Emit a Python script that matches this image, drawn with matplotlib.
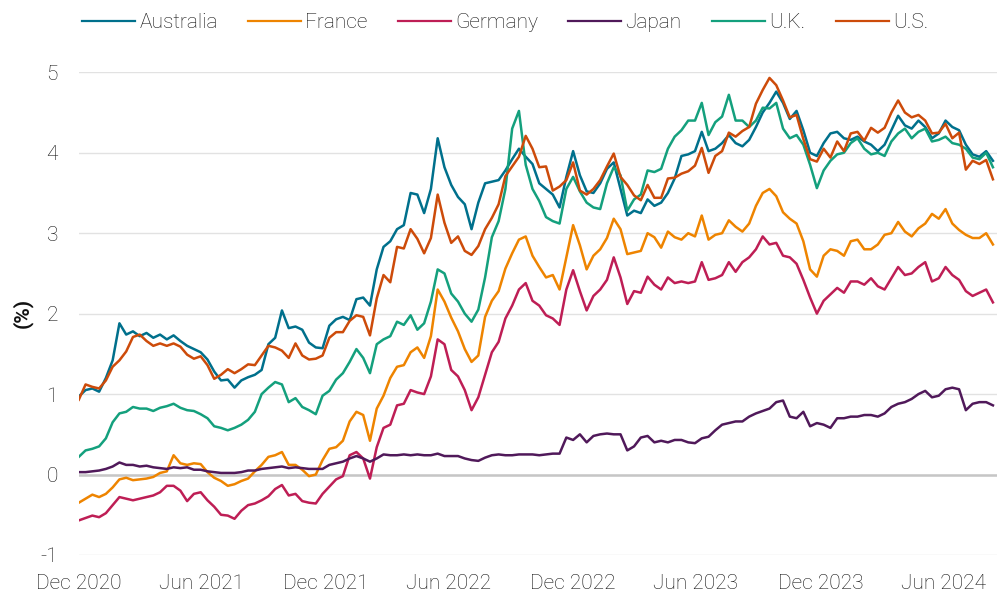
#!/usr/bin/env python3
"""10-year government bond yields, Dec 2020 - Sep 2024 (values read off the reference)."""
import matplotlib

matplotlib.use("Agg")
import matplotlib.pyplot as plt
import pandas as pd

# one reading every 10 days, starting 31 Dec 2020
DATES = pd.date_range("2020-12-31", periods=136, freq="10D")

AUSTRALIA = [
    0.97, 1.05, 1.07, 1.03, 1.20, 1.42, 1.88, 1.74, 1.78, 1.72,
    1.76, 1.70, 1.74, 1.68, 1.73, 1.66, 1.60, 1.56, 1.52, 1.43,
    1.28, 1.17, 1.18, 1.08, 1.17, 1.21, 1.24, 1.30, 1.62, 1.70,
    2.04, 1.82, 1.84, 1.80, 1.64, 1.58, 1.57, 1.85, 1.93, 1.96,
    1.92, 2.18, 2.20, 2.10, 2.55, 2.83, 2.90, 3.05, 3.10, 3.50,
    3.48, 3.25, 3.55, 4.18, 3.82, 3.60, 3.45, 3.36, 3.05, 3.38,
    3.62, 3.64, 3.66, 3.78, 3.92, 4.05, 3.95, 3.86, 3.62, 3.55,
    3.48, 3.32, 3.70, 4.02, 3.72, 3.52, 3.50, 3.62, 3.80, 3.88,
    3.55, 3.22, 3.28, 3.25, 3.42, 3.34, 3.38, 3.50, 3.68, 3.96,
    3.98, 4.02, 4.26, 4.02, 4.05, 4.12, 4.22, 4.12, 4.08, 4.16,
    4.32, 4.50, 4.62, 4.76, 4.62, 4.42, 4.52, 4.28, 4.00, 3.96,
    4.12, 4.24, 4.26, 4.18, 4.16, 4.20, 4.14, 4.10, 4.02, 4.10,
    4.28, 4.46, 4.34, 4.30, 4.40, 4.32, 4.18, 4.24, 4.40, 4.32,
    4.28, 4.10, 3.98, 3.95, 4.02, 3.90,
]
FRANCE = [
    -0.35, -0.30, -0.25, -0.28, -0.24, -0.16, -0.06, -0.04, -0.07, -0.06,
    -0.05, -0.03, 0.02, 0.04, 0.24, 0.14, 0.12, 0.14, 0.13, 0.03,
    -0.04, -0.08, -0.14, -0.12, -0.08, -0.05, 0.04, 0.12, 0.22, 0.24,
    0.28, 0.12, 0.12, 0.06, -0.02, 0.00, 0.18, 0.32, 0.34, 0.42,
    0.66, 0.78, 0.74, 0.42, 0.82, 0.98, 1.20, 1.34, 1.36, 1.52,
    1.58, 1.45, 1.72, 2.30, 2.15, 1.95, 1.78, 1.56, 1.40, 1.48,
    1.96, 2.16, 2.28, 2.56, 2.75, 2.92, 2.96, 2.72, 2.58, 2.45,
    2.48, 2.30, 2.70, 3.10, 2.85, 2.55, 2.72, 2.80, 2.94, 3.18,
    3.05, 2.74, 2.76, 2.78, 3.00, 2.95, 2.82, 3.02, 2.95, 2.92,
    3.00, 2.96, 3.22, 2.92, 2.98, 3.00, 3.16, 3.08, 3.02, 3.12,
    3.34, 3.50, 3.55, 3.46, 3.26, 3.18, 3.12, 2.90, 2.55, 2.46,
    2.72, 2.80, 2.78, 2.72, 2.90, 2.92, 2.80, 2.80, 2.86, 2.98,
    3.00, 3.14, 3.02, 2.96, 3.06, 3.12, 3.24, 3.18, 3.30, 3.12,
    3.04, 2.98, 2.94, 2.94, 3.00, 2.86,
]
GERMANY = [
    -0.57, -0.54, -0.51, -0.53, -0.48, -0.38, -0.28, -0.30, -0.32, -0.30,
    -0.28, -0.26, -0.22, -0.14, -0.14, -0.20, -0.33, -0.24, -0.22, -0.32,
    -0.40, -0.50, -0.51, -0.55, -0.45, -0.38, -0.36, -0.32, -0.27, -0.18,
    -0.13, -0.26, -0.24, -0.33, -0.35, -0.36, -0.24, -0.15, -0.06, -0.02,
    0.24, 0.28, 0.20, -0.05, 0.34, 0.58, 0.62, 0.86, 0.88, 1.05,
    1.02, 1.00, 1.22, 1.68, 1.62, 1.30, 1.22, 1.05, 0.80, 0.96,
    1.24, 1.52, 1.65, 1.94, 2.10, 2.30, 2.38, 2.16, 2.10, 1.98,
    1.94, 1.86, 2.30, 2.54, 2.28, 2.04, 2.22, 2.30, 2.42, 2.70,
    2.45, 2.12, 2.28, 2.26, 2.46, 2.36, 2.30, 2.45, 2.38, 2.40,
    2.38, 2.40, 2.64, 2.42, 2.44, 2.48, 2.64, 2.52, 2.64, 2.70,
    2.80, 2.96, 2.86, 2.88, 2.72, 2.70, 2.62, 2.42, 2.20, 2.00,
    2.16, 2.24, 2.32, 2.26, 2.40, 2.40, 2.36, 2.44, 2.34, 2.30,
    2.44, 2.58, 2.48, 2.50, 2.58, 2.64, 2.40, 2.44, 2.58, 2.48,
    2.42, 2.28, 2.22, 2.26, 2.30, 2.14,
]
JAPAN = [
    0.03, 0.03, 0.04, 0.05, 0.07, 0.10, 0.15, 0.12, 0.12, 0.10,
    0.11, 0.09, 0.08, 0.07, 0.09, 0.08, 0.09, 0.06, 0.06, 0.04,
    0.03, 0.02, 0.02, 0.02, 0.03, 0.05, 0.05, 0.07, 0.08, 0.09,
    0.10, 0.08, 0.09, 0.08, 0.07, 0.07, 0.07, 0.12, 0.14, 0.16,
    0.20, 0.23, 0.20, 0.16, 0.20, 0.25, 0.24, 0.24, 0.25, 0.24,
    0.25, 0.24, 0.24, 0.26, 0.23, 0.23, 0.23, 0.20, 0.18, 0.17,
    0.21, 0.24, 0.25, 0.24, 0.24, 0.25, 0.25, 0.25, 0.24, 0.25,
    0.26, 0.26, 0.46, 0.43, 0.50, 0.40, 0.48, 0.50, 0.51, 0.50,
    0.50, 0.30, 0.35, 0.46, 0.48, 0.40, 0.42, 0.40, 0.43, 0.43,
    0.40, 0.39, 0.45, 0.47, 0.55, 0.62, 0.64, 0.66, 0.66, 0.72,
    0.76, 0.79, 0.82, 0.90, 0.92, 0.72, 0.70, 0.78, 0.60, 0.64,
    0.62, 0.58, 0.70, 0.70, 0.72, 0.72, 0.74, 0.74, 0.72, 0.76,
    0.84, 0.88, 0.90, 0.94, 1.00, 1.04, 0.96, 0.98, 1.06, 1.08,
    1.06, 0.80, 0.88, 0.90, 0.90, 0.86,
]
UK = [
    0.22, 0.30, 0.32, 0.35, 0.45, 0.65, 0.76, 0.78, 0.84, 0.82,
    0.82, 0.79, 0.83, 0.85, 0.88, 0.83, 0.80, 0.79, 0.75, 0.70,
    0.60, 0.58, 0.55, 0.58, 0.62, 0.68, 0.78, 1.00, 1.08, 1.15,
    1.12, 0.90, 0.95, 0.84, 0.80, 0.75, 0.98, 1.04, 1.18, 1.26,
    1.40, 1.56, 1.45, 1.26, 1.62, 1.68, 1.72, 1.90, 1.86, 1.98,
    1.80, 1.88, 2.15, 2.55, 2.50, 2.25, 2.15, 2.00, 1.90, 2.05,
    2.45, 2.95, 3.15, 3.55, 4.30, 4.52, 3.85, 3.55, 3.40, 3.20,
    3.15, 3.12, 3.55, 3.70, 3.52, 3.38, 3.32, 3.30, 3.62, 3.82,
    3.72, 3.28, 3.42, 3.48, 3.78, 3.76, 3.80, 4.05, 4.20, 4.28,
    4.40, 4.40, 4.62, 4.22, 4.38, 4.45, 4.72, 4.40, 4.40, 4.32,
    4.40, 4.56, 4.55, 4.62, 4.30, 4.18, 4.22, 4.10, 3.85, 3.56,
    3.78, 3.90, 3.98, 4.00, 4.12, 4.18, 4.05, 3.98, 4.00, 3.96,
    4.14, 4.24, 4.30, 4.18, 4.26, 4.30, 4.14, 4.16, 4.20, 4.12,
    4.10, 4.05, 3.94, 3.92, 4.00, 3.82,
]
US = [
    0.93, 1.12, 1.09, 1.07, 1.17, 1.34, 1.42, 1.53, 1.71, 1.74,
    1.66, 1.60, 1.63, 1.60, 1.63, 1.59, 1.49, 1.44, 1.47, 1.36,
    1.19, 1.24, 1.31, 1.26, 1.31, 1.37, 1.36, 1.48, 1.60, 1.58,
    1.54, 1.45, 1.63, 1.48, 1.43, 1.44, 1.48, 1.70, 1.77, 1.77,
    1.91, 1.98, 1.96, 1.73, 2.19, 2.48, 2.39, 2.83, 2.81, 3.05,
    2.93, 2.75, 2.94, 3.48, 3.13, 2.88, 2.96, 2.78, 2.73, 2.84,
    3.05, 3.19, 3.36, 3.71, 3.83, 3.95, 4.21, 4.05, 3.82, 3.83,
    3.53, 3.58, 3.66, 3.88, 3.53, 3.48, 3.55, 3.66, 3.83, 3.99,
    3.70, 3.60, 3.47, 3.41, 3.60, 3.44, 3.44, 3.68, 3.69, 3.74,
    3.77, 3.84, 4.06, 3.75, 3.96, 4.02, 4.25, 4.20, 4.27, 4.32,
    4.61, 4.78, 4.93, 4.84, 4.65, 4.44, 4.47, 4.17, 3.92, 3.89,
    4.05, 3.94, 4.14, 4.02, 4.24, 4.26, 4.15, 4.31, 4.25, 4.31,
    4.50, 4.65, 4.50, 4.44, 4.47, 4.40, 4.24, 4.25, 4.36, 4.18,
    4.25, 3.79, 3.90, 3.86, 3.91, 3.67,
]

NAMES = ["Australia", "France", "Germany", "Japan", "U.K.", "U.S."]
COLORS = ["#00708c", "#ee8400", "#be1e55", "#50195a", "#14a07d", "#cd4b0a"]

TICK_DATES = ["2020-12-31", "2021-06-30", "2021-12-31", "2022-06-30",
              "2022-12-31", "2023-06-30", "2023-12-31", "2024-06-30"]
TICK_LABELS = ["Dec 2020", "Jun 2021", "Dec 2021", "Jun 2022",
               "Dec 2022", "Jun 2023", "Dec 2023", "Jun 2024"]

plt.rcParams["font.family"] = ["Roboto", "DejaVu Sans"]
plt.rcParams["font.weight"] = "light"
plt.rcParams["axes.unicode_minus"] = False

TEXT = "#111111"
W, H = 997, 593
fig = plt.figure(figsize=(W / 100, H / 100), dpi=100)
ax = fig.add_axes([78.8 / W, 1 - 555 / H, (W - 78.8) / W, (555 - 72.3) / H])

for name, vals, col in zip(NAMES, [AUSTRALIA, FRANCE, GERMANY, JAPAN, UK, US], COLORS):
    ax.plot(DATES, vals, color=col, lw=1.8, label=name, solid_joinstyle="round")

ax.set_xlim(pd.Timestamp("2020-12-31"), pd.Timestamp("2024-09-17"))
ax.set_ylim(-1, 5)
ax.set_yticks(range(-1, 6))
ax.set_xticks(pd.to_datetime(TICK_DATES))
ax.set_xticklabels(TICK_LABELS)

ax.yaxis.grid(True, color="#e2e2e2", lw=1.0)
ax.set_axisbelow(True)
ax.axhline(0, color="#c6c6c6", lw=1.8, zorder=1)
for s in ax.spines.values():
    s.set_visible(False)
ax.tick_params(axis="both", length=0, labelsize=15, colors=TEXT)
ax.tick_params(axis="y", pad=15)
ax.tick_params(axis="x", pad=14)

fig.text(22 / W, 1 - 313 / H, "(%)", rotation=90, ha="center", va="center",
         fontsize=15, fontweight="bold", color="#111111")

leg = fig.legend(loc="center", bbox_to_anchor=(505 / W, 1 - 23 / H), ncol=6,
                 frameon=False, fontsize=15, handlelength=2.55,
                 handletextpad=0.2, columnspacing=1.45, labelcolor=TEXT)
for ln in leg.get_lines():
    ln.set_linewidth(1.6)

fig.savefig("out.png", dpi=100)
